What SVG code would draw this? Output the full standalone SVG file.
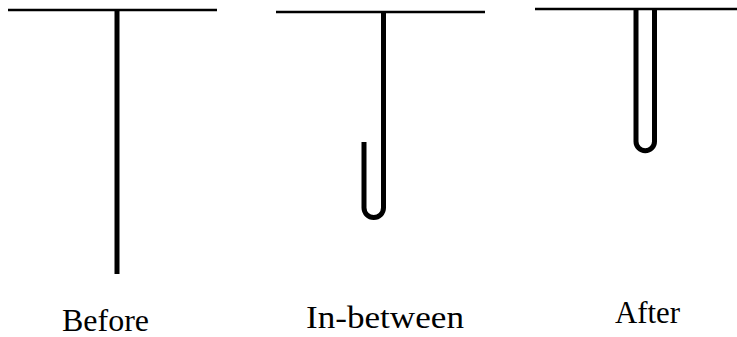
<svg xmlns="http://www.w3.org/2000/svg" width="737" height="337" viewBox="0 0 737 337">
<style>
.bar{stroke:#000;stroke-width:2.5;fill:none}
.wire{stroke:#000;stroke-width:5;fill:none;stroke-linecap:butt}
.lbl{font-family:"Liberation Serif","DejaVu Serif",serif;font-size:31px;fill:#000;text-anchor:middle}
</style>
<rect width="737" height="337" fill="#fff"/>
<g id="before">
<line class="bar" x1="8" y1="10" x2="217" y2="10"/>
<line class="wire" x1="117" y1="10" x2="117" y2="274"/>
<text class="lbl" x="105.5" y="331" textLength="87" lengthAdjust="spacingAndGlyphs">Before</text>
</g>
<g id="in-between">
<line class="bar" x1="276" y1="12" x2="485" y2="12"/>
<path class="wire" d="M383.5 12 V207.8 A9.75 9.75 0 0 1 364 207.8 V142"/>
<text class="lbl" x="385" y="328" textLength="158" lengthAdjust="spacingAndGlyphs">In-between</text>
</g>
<g id="after">
<line class="bar" x1="535" y1="9" x2="737" y2="9"/>
<path class="wire" d="M654.5 9 V141.5 A9.25 9.25 0 0 1 636 141.5 V9"/>
<text class="lbl" x="647.5" y="323" textLength="65" lengthAdjust="spacingAndGlyphs">After</text>
</g>
</svg>
